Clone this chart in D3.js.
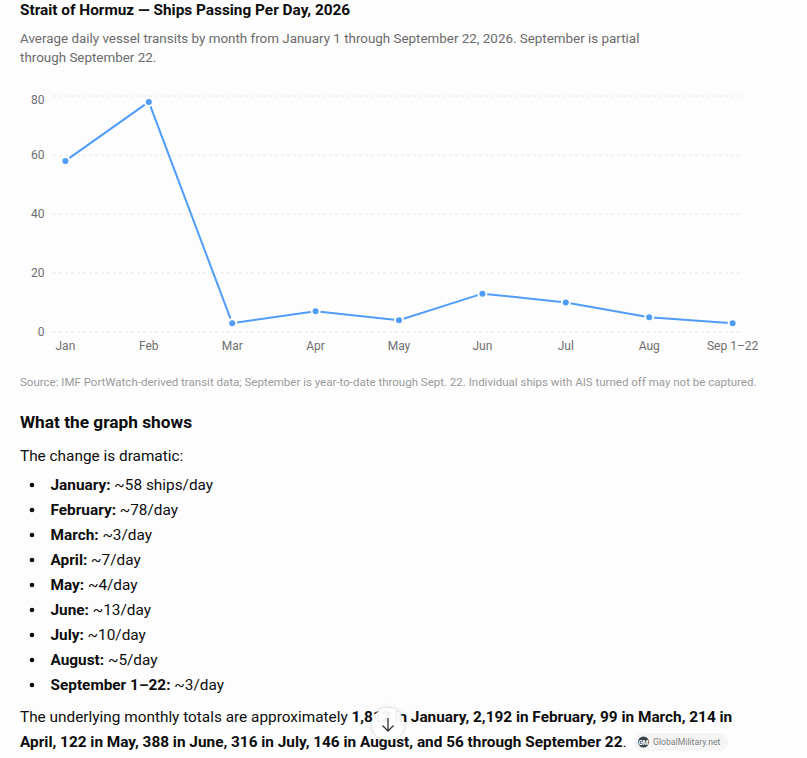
<!DOCTYPE html>
<html><head><meta charset="utf-8">
<script src="https://cdn.jsdelivr.net/npm/d3@7"></script>
<style>
html,body{margin:0;padding:0;background:#fdfdfd;overflow:hidden}
svg{display:block;font-family:Roboto,sans-serif}
</style></head><body>
<svg id="c" width="807" height="758"></svg>
<script>
const months=["Jan","Feb","Mar","Apr","May","Jun","Jul","Aug","Sep 1–22"];
const shipsPerDay=[58,78,3,7,4,13,10,5,3];
const yTicks=[0,20,40,60,80];
const title="Strait of Hormuz — Ships Passing Per Day, 2026";
const subtitle=["Average daily vessel transits by month from January 1 through September 22, 2026. September is partial","through September 22."];
const source="Source: IMF PortWatch-derived transit data; September is year-to-date through Sept. 22. Individual ships with AIS turned off may not be captured.";
const bulletLabels=["January:","February:","March:","April:","May:","June:","July:","August:","September 1–22:"];
const bulletValues=["~58 ships/day","~78/day","~3/day","~7/day","~4/day","~13/day","~10/day","~5/day","~3/day"];

const svg=d3.select("#c");
const txt=(x,y,s,size,fill,weight)=>svg.append("text").attr("x",x).attr("y",y).attr("font-size",size).attr("fill",fill).attr("font-weight",weight||400).text(s);

txt(20,15,title,15.36,"#0d0d0d",700);
subtitle.forEach((s,i)=>txt(20,43+i*19,s,13.4,"#6b6b6b"));

const x=d3.scalePoint().domain(months).range([65.4,732.6]);
const y=d3.scaleLinear().domain([0,80]).range([332,96]);

svg.append("g").selectAll("line").data(yTicks).join("line")
 .attr("x1",53).attr("x2",743).attr("y1",d=>y(d)).attr("y2",d=>y(d))
 .attr("stroke","#e8e8e8").attr("stroke-width",1).attr("stroke-dasharray","3 3");
svg.append("g").selectAll("text").data(yTicks).join("text")
 .attr("x",44.5).attr("y",d=>y(d)+(d===80?8:4)).attr("text-anchor","end")
 .attr("font-size",12).attr("fill","#6f6f6f").text(d=>d);
svg.append("g").selectAll("text").data(months).join("text")
 .attr("x",d=>x(d)).attr("y",350).attr("text-anchor","middle")
 .attr("font-size",12).attr("fill","#6f6f6f").text(d=>d);

const pts=months.map((m,i)=>[m,shipsPerDay[i]]);
svg.append("path").datum(pts)
 .attr("fill","none").attr("stroke","#4f9cf9").attr("stroke-width",2)
 .attr("d",d3.line().x(d=>x(d[0])).y(d=>y(d[1])));
svg.append("g").selectAll("circle").data(pts).join("circle")
 .attr("cx",d=>x(d[0])).attr("cy",d=>y(d[1])).attr("r",4)
 .attr("fill","#4f9cf9").attr("stroke","#fdfdfd").attr("stroke-width",2);

txt(20,386,source,11.5,"#9a9a9a");
txt(20,428,"What the graph shows",17.3,"#0d0d0d",700);
txt(20,461,"The change is dramatic:",15.36,"#0d0d0d");

bulletLabels.forEach((l,i)=>{
  const yy=490+i*25;
  svg.append("circle").attr("cx",32).attr("cy",yy-5).attr("r",2.3).attr("fill","#0d0d0d");
  const t=svg.append("text").attr("x",50.5).attr("y",yy).attr("font-size",15.36).attr("fill","#0d0d0d");
  t.append("tspan").attr("font-weight",700).text(l);
  t.append("tspan").text(" "+bulletValues[i]);
});

const p1=svg.append("text").attr("x",20).attr("y",722).attr("font-size",15.36).attr("fill","#0d0d0d");
p1.append("tspan").text("The underlying monthly totals are approximately ");
p1.append("tspan").attr("font-weight",700).text("1,812 in January, 2,192 in February, 99 in March, 214 in");
const p2=svg.append("text").attr("x",20).attr("y",747).attr("font-size",15.36).attr("fill","#0d0d0d");
p2.append("tspan").attr("font-weight",700).text("April, 122 in May, 388 in June, 316 in July, 146 in August, and 56 through September 22");
p2.append("tspan").text(".");

// source chip
svg.append("rect").attr("x",634).attr("y",733).attr("width",94).attr("height",18).attr("rx",9).attr("fill","#f5f5f5");
svg.append("circle").attr("cx",643.5).attr("cy",742).attr("r",5.5).attr("fill","#3a4450");
svg.append("text").attr("x",643.5).attr("y",744.5).attr("text-anchor","middle").attr("font-size",6.5).attr("font-weight",700).attr("fill","#fff").text("GM");
txt(653,745,"GlobalMilitary.net",8.7,"#808080");

// scroll button
const defs=svg.append("defs");
const f=defs.append("filter").attr("id","sh").attr("x","-50%").attr("y","-50%").attr("width","200%").attr("height","200%");
f.append("feDropShadow").attr("dx",0).attr("dy",0).attr("stdDeviation",2).attr("flood-color","#000").attr("flood-opacity",0.25);
svg.append("circle").attr("cx",388).attr("cy",724).attr("r",16).attr("fill","#fff").attr("fill-opacity",0.93).attr("filter","url(#sh)");
svg.append("path").attr("d","M388 718V731M382.5 725.5L388 731L393.5 725.5").attr("fill","none").attr("stroke","#333").attr("stroke-width",1.3);
</script>
</body></html>
